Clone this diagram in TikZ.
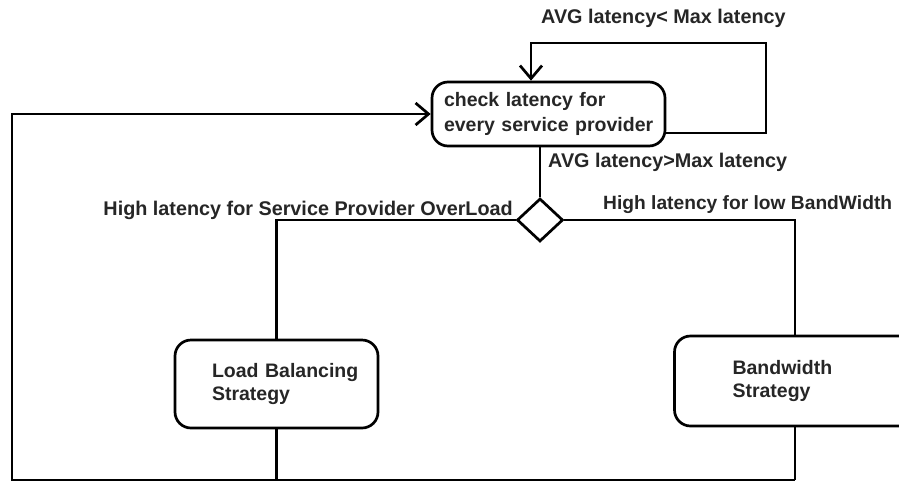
\documentclass[tikz,border=0pt]{standalone}
\usepackage{fontspec}
\setmainfont{Liberation Sans}
\usetikzlibrary{arrows.meta,shapes.geometric}
\tikzset{
  flow/.style={line width=2.7pt, line join=miter},
  arr/.style={flow, -{Straight Barb[length=13pt,width=22pt,line width=2.7pt]}},
  actbox/.style={draw, line width=2.7pt, rounded corners=16pt, rectangle,
    align=left, font=\fontsize{19.5}{23}\selectfont\bfseries, text=black!85},
  guard/.style={font=\fontsize{19.8}{22}\selectfont\bfseries, text=black!85, inner sep=0pt},
  choice/.style={draw, diamond, line width=2.7pt, inner sep=0pt,
    minimum width=46pt, minimum height=43pt}
}
\begin{document}
\begin{tikzpicture}[x=1pt,y=-1pt]
\useasboundingbox (0,0) rectangle (899,483);

% activity nodes
\node[actbox, minimum width=233pt, minimum height=64pt, text width=209pt,
      inner xsep=12pt, font=\fontsize{19.5}{25}\selectfont\bfseries]
  (chk) at (548.5,114) {\mbox{check latency for}\\\mbox{every service provider}};
\node[choice] (dec) at (540,220) {};
\node[actbox, minimum width=203pt, minimum height=88pt, text width=129pt,
      inner xsep=37pt] (lb) at (276.5,384) {\mbox{Load Balancing}\\\mbox{Strategy}};
\node[actbox, minimum width=201pt, minimum height=90pt, text width=125pt,
      inner xsep=58pt] (bw) at (795,381) {\mbox{Bandwidth}\\\mbox{Strategy}};

% guard labels
\node[guard, anchor=west] (g1) at (541,18) {AVG latency< Max latency};
\node[guard, anchor=west] (g2) at (548,162) {AVG latency>Max latency};
\node[guard, anchor=east] (g3) at (513,210) {High latency for Service Provider OverLoad};
\node[guard, anchor=west, font=\fontsize{19.2}{22}\selectfont\bfseries]
  (g4) at (603,205) {High latency for low BandWidth};

% corner points of the routes
\coordinate (loopR) at (766,43);
\coordinate (loopL) at (531,43);
\coordinate (botL) at (12,480);

% self loop while latency is fine
\draw[arr] (chk.east |- 0,133) -| (loopR) -- (loopL) -- (chk.north -| loopL);

% into the decision
\draw[flow] (chk.south -| dec.north) -- (dec.north);

% branches
\draw[flow] (dec.west) -| (lb.north);
\draw[flow] (dec.east) -| (bw.north);

% return to the check
\draw[flow] (lb.south) -- (lb.south |- botL);
\draw[flow] (bw.south) -- (bw.south |- botL);
\draw[arr] (bw.south |- botL) -- (botL) |- (chk.west);
\end{tikzpicture}
\end{document}
